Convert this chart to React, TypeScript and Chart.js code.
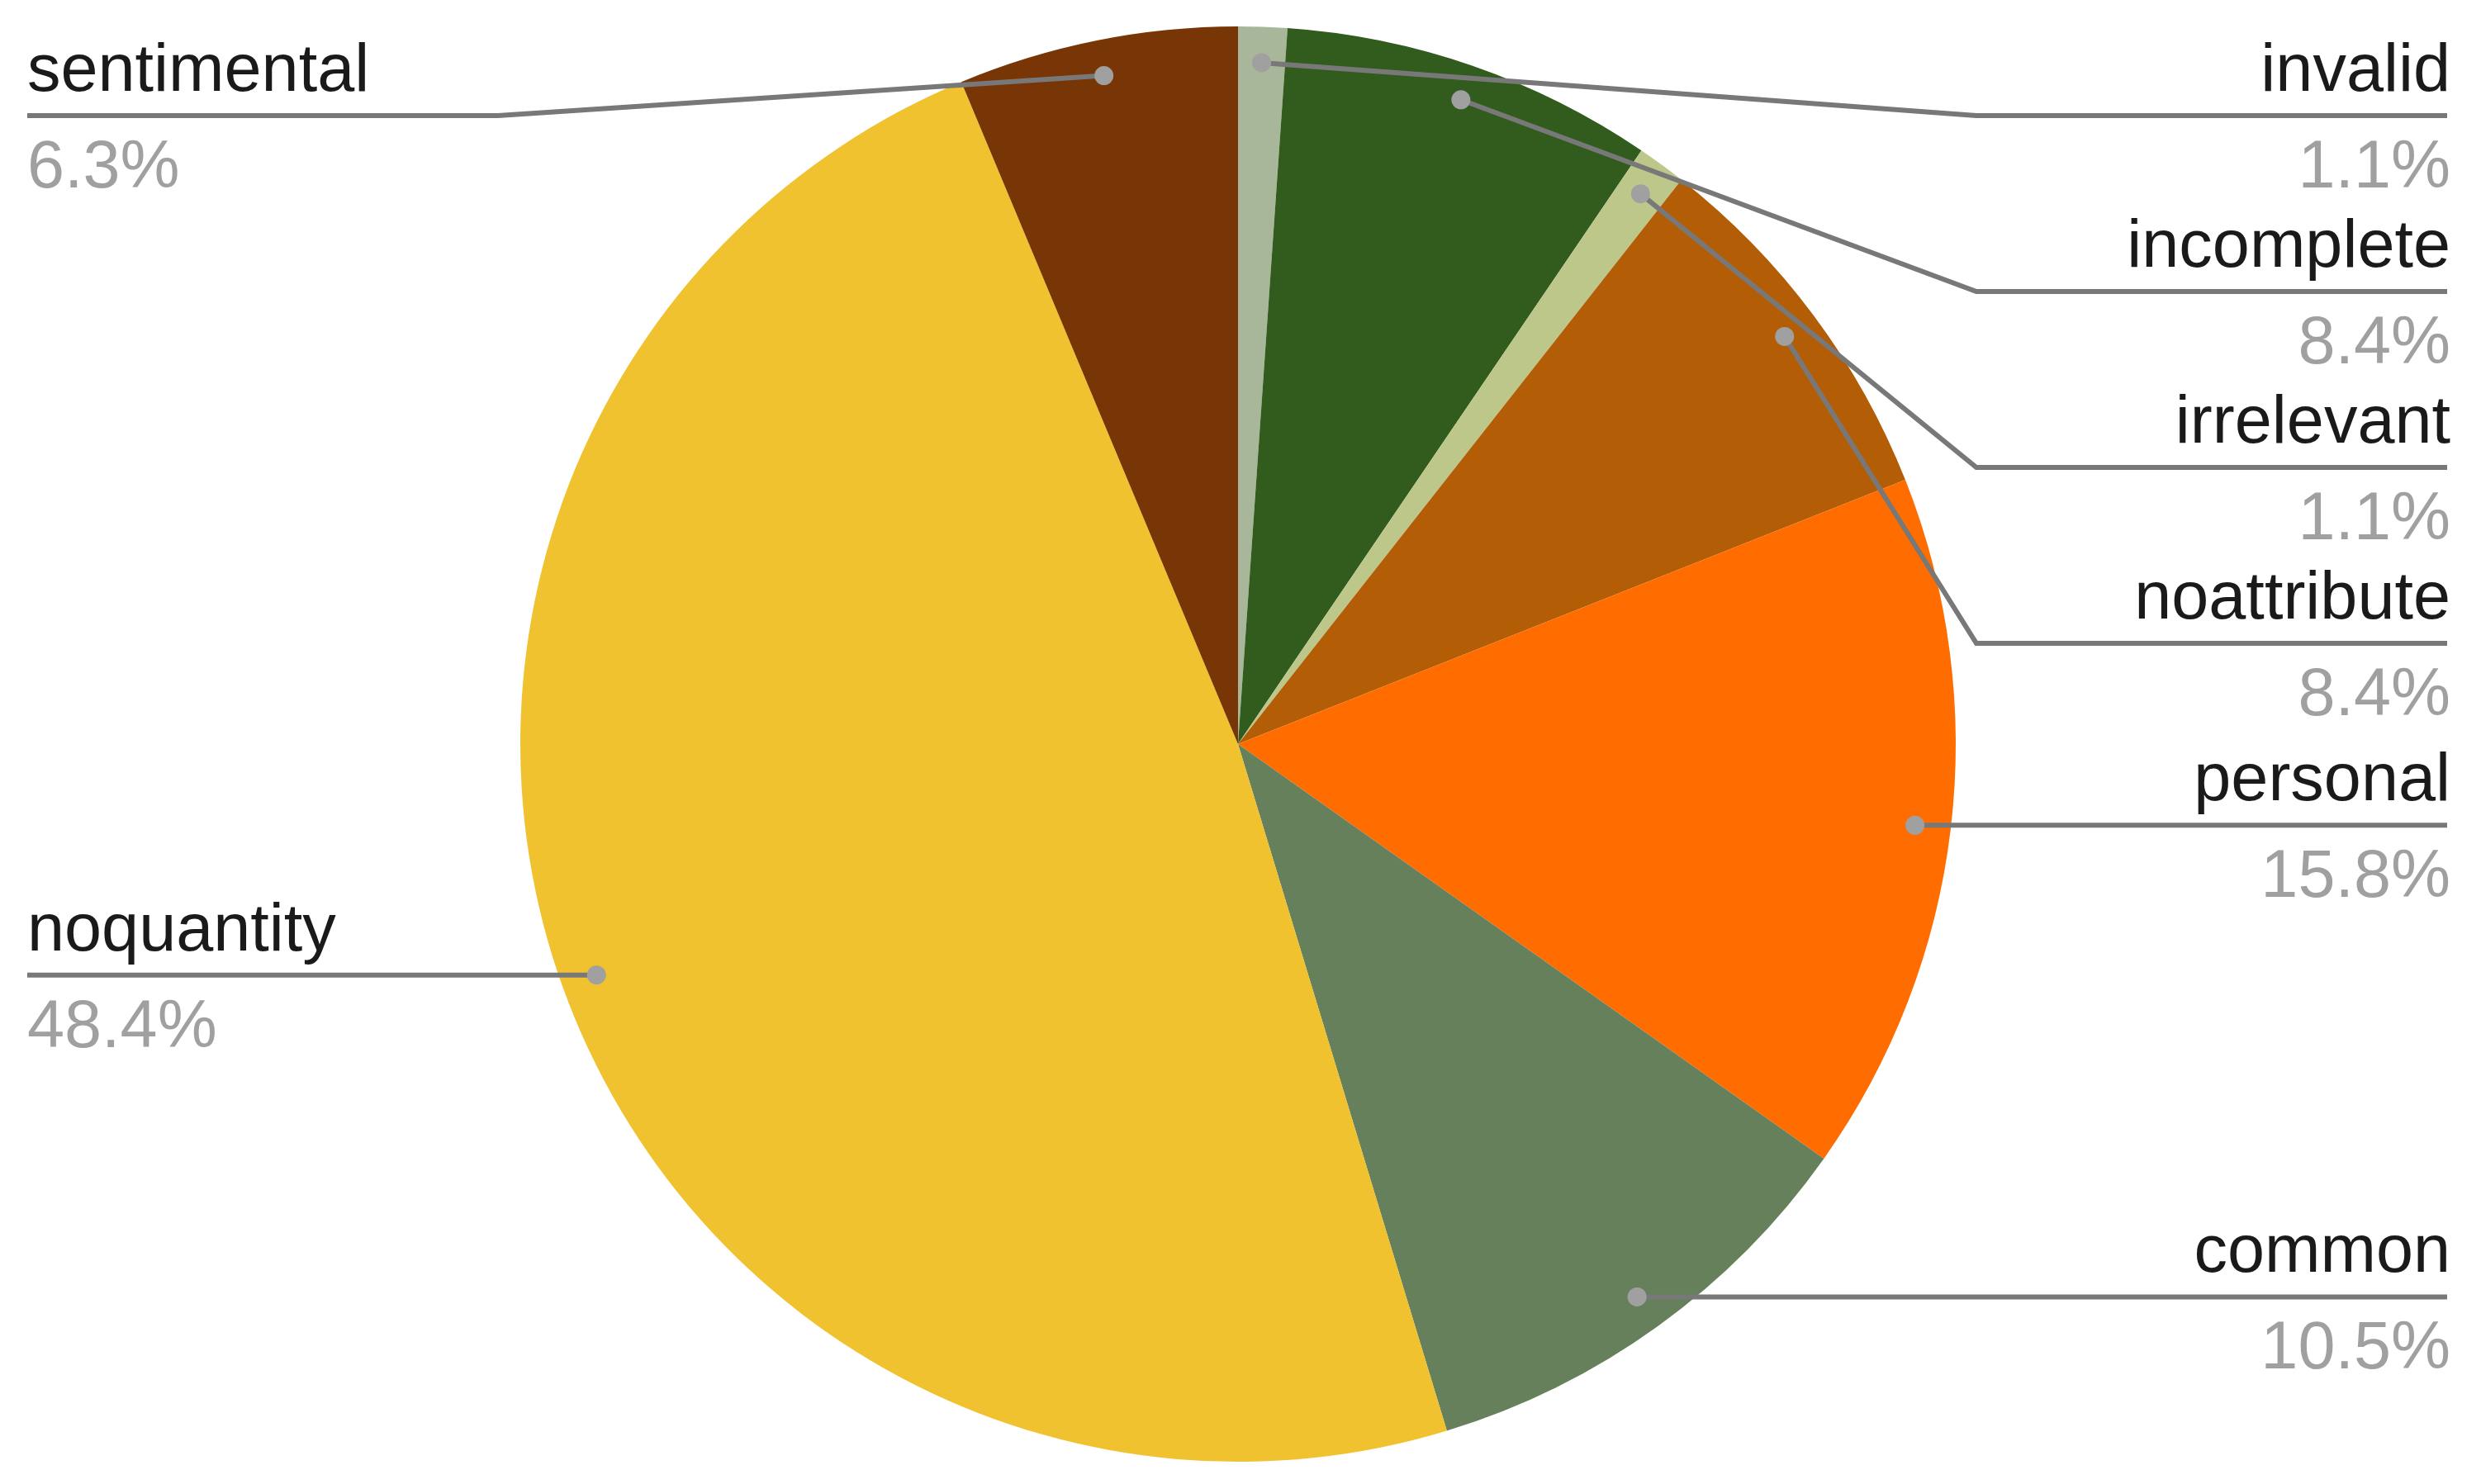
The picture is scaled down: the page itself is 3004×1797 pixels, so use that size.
import React, { useEffect, useRef } from "react";
import { Chart, registerables } from "chart.js";

Chart.register(...registerables);

// ---- data ----
const categories = [
  "invalid",
  "incomplete",
  "irrelevant",
  "noattribute",
  "personal",
  "common",
  "noquantity",
  "sentimental",
];
const shares = [1.1, 8.4, 1.1, 8.4, 15.8, 10.5, 48.4, 6.3];
const sliceColors = [
  "#a8b79a",
  "#325b1e",
  "#bec78a",
  "#b35e06",
  "#ff6d00",
  "#67805c",
  "#f0c230",
  "#783506",
];

// ---- layout / style ----
const W = 3004;
const H = 1797;
const FONT = '"Liberation Sans", Arial, Helvetica, sans-serif';
const FONT_SIZE = 81;
const NAME_COLOR = "#1a1a1a";
const PCT_COLOR = "#a0a0a0";
const LINE_COLOR = "#787878";
const DOT_COLOR = "#a0a0a0";
const LINE_W = 6;
const DOT_R = 11.5;
const DOT_FRAC = 0.95;
const LABEL_GAP = 213;
const LABEL_MIN_Y = 140;
const RIGHT_END = 2963;
const RIGHT_TEXT_X = 2967;
const LEFT_END = 33;
const LEFT_TEXT_X = 33;
const RUN = 570;
const NAME_OFFSET = -30;
const PCT_OFFSET = 87;

const leaderPlugin = {
  id: "leaderLabels",
  afterDatasetsDraw(chart: any) {
    const ctx = chart.ctx as CanvasRenderingContext2D;
    const meta = chart.getDatasetMeta(0);
    const ds = chart.data.datasets[0];
    const labels = chart.data.labels as string[];
    const items = meta.data.map((arc: any, i: number) => {
      const p = arc.getProps(["x", "y", "startAngle", "endAngle", "outerRadius"], true);
      const mid = (p.startAngle + p.endAngle) / 2;
      const r = p.outerRadius * DOT_FRAC;
      const px = p.x + Math.cos(mid) * r;
      const py = p.y + Math.sin(mid) * r;
      return {
        i,
        px,
        py,
        right: px >= p.x,
        ly: py,
        name: labels[i],
        pct: (ds.data[i] as number).toFixed(1) + "%",
      };
    });

    for (const side of [true, false]) {
      const group = items.filter((it: any) => it.right === side).sort((a: any, b: any) => a.py - b.py);
      let prev = -Infinity;
      for (const it of group) {
        it.ly = Math.max(it.py, prev + LABEL_GAP, LABEL_MIN_Y);
        prev = it.ly;
      }
    }

    ctx.save();
    // lines
    ctx.strokeStyle = LINE_COLOR;
    ctx.lineWidth = LINE_W;
    ctx.lineJoin = "miter";
    ctx.lineCap = "butt";
    for (const it of items) {
      const end = it.right ? RIGHT_END : LEFT_END;
      const elbow = it.right ? RIGHT_END - RUN : LEFT_END + RUN;
      ctx.beginPath();
      ctx.moveTo(it.px, it.py);
      const elbowUseful = it.right ? it.px < elbow : it.px > elbow;
      if (elbowUseful) ctx.lineTo(elbow, it.ly);
      ctx.lineTo(end, it.ly);
      ctx.stroke();
    }
    // dots
    ctx.fillStyle = DOT_COLOR;
    for (const it of items) {
      ctx.beginPath();
      ctx.arc(it.px, it.py, DOT_R, 0, Math.PI * 2);
      ctx.fill();
    }
    // text
    ctx.font = `${FONT_SIZE}px ${FONT}`;
    ctx.textBaseline = "alphabetic";
    for (const it of items) {
      ctx.textAlign = it.right ? "right" : "left";
      const tx = it.right ? RIGHT_TEXT_X : LEFT_TEXT_X;
      ctx.fillStyle = NAME_COLOR;
      ctx.fillText(it.name, tx, it.ly + NAME_OFFSET);
      ctx.fillStyle = PCT_COLOR;
      ctx.fillText(it.pct, tx, it.ly + PCT_OFFSET);
    }
    ctx.restore();
  },
};

export default function App() {
  const canvasRef = useRef<HTMLCanvasElement | null>(null);

  useEffect(() => {
    const canvas = canvasRef.current;
    if (!canvas) return;
    const chart = new Chart(canvas, {
      type: "pie",
      data: {
        labels: categories,
        datasets: [
          {
            data: shares,
            backgroundColor: sliceColors,
            borderWidth: 0,
          },
        ],
      },
      options: {
        responsive: false,
        animation: false,
        devicePixelRatio: 1,
        layout: { padding: { left: 630, right: 636, top: 32, bottom: 27 } },
        plugins: {
          legend: { display: false },
          tooltip: { enabled: false },
        },
      },
      plugins: [leaderPlugin],
    });
    return () => chart.destroy();
  }, []);

  return (
    <div style={{ position: "absolute", left: 0, top: 0, width: W, height: H, background: "#ffffff" }}>
      <canvas ref={canvasRef} width={W} height={H} style={{ display: "block", width: W, height: H }} />
    </div>
  );
}
